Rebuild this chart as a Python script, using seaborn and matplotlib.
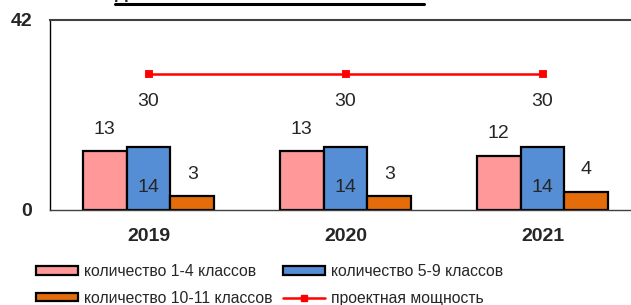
import matplotlib
matplotlib.use('Agg')
import matplotlib.pyplot as plt
import pandas as pd
import seaborn as sns
from matplotlib.patches import Patch
from matplotlib.lines import Line2D

# chart data
years = ['2019', '2020', '2021']
grades_1_4 = [13, 13, 12]
grades_5_9 = [14, 14, 14]
grades_10_11 = [3, 3, 4]
capacity = [30, 30, 30]
series_names = ['количество 1-4 классов', 'количество 5-9 классов', 'количество 10-11 классов']
line_name = 'проектная мощность'
title = 'Динамика наполняемости классов'

colors = ['#FF9999', '#558ED5', '#E46C0A']

df = pd.DataFrame({
    'year': years * 3,
    'value': grades_1_4 + grades_5_9 + grades_10_11,
    'series': [s for s in series_names for _ in years],
})

sns.set_style('white')
plt.rcParams['font.family'] = ['Liberation Sans', 'DejaVu Sans']

fig = plt.figure(figsize=(6.31, 3.05), dpi=100)
ax = fig.add_axes([50 / 631, 95 / 305, 591 / 631, 190 / 305])

sns.barplot(data=df, x='year', y='value', hue='series', order=years, hue_order=series_names,
            palette=colors, width=0.67, edgecolor='black', linewidth=1.6, saturation=1,
            legend=False, ax=ax)
sns.pointplot(x=years, y=capacity, color='#FF0000', markers='s', markersize=4.5,
              linewidth=1.8, ax=ax)

ax.set_xlim(-0.5, 2.5)
ax.set_ylim(0, 42)
ax.set_xlabel('')
ax.set_ylabel('')

# value labels
for i, cont in enumerate(ax.containers[:3]):
    for bar in cont:
        xc = bar.get_x() + bar.get_width() / 2
        h = bar.get_height()
        if i == 1:
            y = 4.9
        else:
            y = h + 4.9
        ax.text(xc, y, f'{int(round(h))}', ha='center', va='center', fontsize=14)
for i, v in enumerate(capacity):
    ax.text(i, v - 6.1, str(v), ha='center', va='center', fontsize=14)

# axes styling
ax.set_yticks([0, 42])
ax.set_yticklabels(['0', '42'], fontweight='bold', fontsize=14)
ax.set_xticks(range(len(years)))
ax.set_xticklabels(years, fontweight='bold', fontsize=14)
ax.set_xticks([-0.5, 0.5, 1.5, 2.5], minor=True)
ax.tick_params(axis='x', which='major', length=0, pad=13)
ax.tick_params(axis='x', which='minor', length=5, width=1, color='black', direction='out')
ax.tick_params(axis='y', length=5, width=1, color='#404040', direction='out', pad=8)
ax.spines['top'].set_color('#404040')
ax.spines['top'].set_linewidth(1.5)
ax.spines['right'].set_visible(False)
ax.spines['left'].set_color('black')
ax.spines['left'].set_linewidth(1)
ax.spines['bottom'].set_color('#404040')
ax.spines['bottom'].set_linewidth(1)

# title, almost entirely cut off at the top edge
fig.text(269.5 / 631, 1 + 2.5 / 305, title, ha='center', va='baseline', fontsize=13,
         fontweight='bold')
fig.add_artist(Line2D([115 / 631, 424 / 631], [1 - 4.2 / 305, 1 - 4.2 / 305],
                      transform=fig.transFigure, color='black', linewidth=2.2))

handles = [
    Patch(facecolor=colors[0], edgecolor='black', linewidth=1.6),
    Patch(facecolor=colors[2], edgecolor='black', linewidth=1.6),
    Patch(facecolor=colors[1], edgecolor='black', linewidth=1.6),
    Line2D([], [], color='#FF0000', marker='s', markersize=4.5, linewidth=1.8),
]
labels = [series_names[0], series_names[2], series_names[1], line_name]
fig.legend(handles, labels, ncol=2, loc='upper left', bbox_to_anchor=(36 / 631, 1 - 264 / 305),
           frameon=False, fontsize=11.3, handlelength=2.65, handleheight=0.45,
           handletextpad=0.4, columnspacing=0.7, labelspacing=0.75, borderpad=0,
           borderaxespad=0)

fig.savefig('out.png', dpi=100)
